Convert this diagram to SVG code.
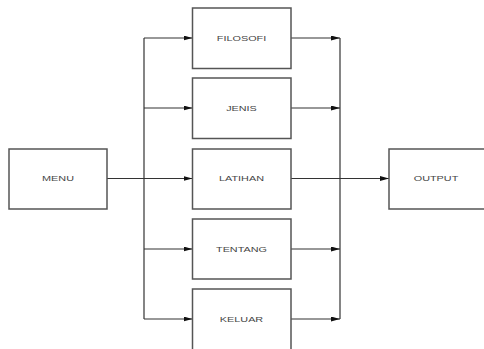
<svg xmlns="http://www.w3.org/2000/svg" width="484" height="349" viewBox="0 0 484 349">
<defs>
<marker id="arr" markerUnits="userSpaceOnUse" markerWidth="10" markerHeight="6" refX="9" refY="2.5" orient="auto">
<path d="M0,0 L9,2.5 L0,5 z" fill="#111"/>
</marker>
<style>
.box{fill:#fff;stroke:#555;stroke-width:1.5}
.lbl{font-family:"Liberation Sans",Arial,sans-serif;font-size:7px;fill:#444;text-anchor:middle}
.ln{fill:none;stroke:#333;stroke-width:1.2}
.ar{marker-end:url(#arr)}
</style>
</defs>
<rect width="484" height="349" fill="#fff"/>
<g id="connectors">
<line class="ln ar" x1="107" y1="178.5" x2="192.5" y2="178.5"/>
<line class="ln" x1="144" y1="38" x2="144" y2="319"/>
<line class="ln ar" x1="144" y1="38" x2="192.5" y2="38"/>
<line class="ln ar" x1="144" y1="108" x2="192.5" y2="108"/>
<line class="ln ar" x1="144" y1="249" x2="192.5" y2="249"/>
<line class="ln ar" x1="144" y1="319" x2="192.5" y2="319"/>
<line class="ln" x1="340" y1="38" x2="340" y2="319"/>
<line class="ln ar" x1="291" y1="38" x2="340" y2="38"/>
<line class="ln ar" x1="291" y1="108" x2="340" y2="108"/>
<line class="ln ar" x1="291" y1="249" x2="340" y2="249"/>
<line class="ln ar" x1="291" y1="319" x2="340" y2="319"/>
<line class="ln ar" x1="291" y1="178.5" x2="389" y2="178.5"/>
</g>
<g id="menu">
<rect class="box" x="9" y="149" width="98" height="60"/>
<text class="lbl" transform="translate(58,181) scale(1.55,1)">MENU</text>
</g>
<g id="filosofi">
<rect class="box" x="192.5" y="8" width="98.5" height="60.5"/>
<text class="lbl" transform="translate(241.5,41) scale(1.55,1)">FILOSOFI</text>
</g>
<g id="jenis">
<rect class="box" x="192.5" y="78" width="98.5" height="60.5"/>
<text class="lbl" transform="translate(241.5,111) scale(1.55,1)">JENIS</text>
</g>
<g id="latihan">
<rect class="box" x="192.5" y="149" width="98.5" height="60"/>
<text class="lbl" transform="translate(241.5,181) scale(1.55,1)">LATIHAN</text>
</g>
<g id="tentang">
<rect class="box" x="192.5" y="219" width="98.5" height="60"/>
<text class="lbl" transform="translate(241.5,251.5) scale(1.55,1)">TENTANG</text>
</g>
<g id="keluar">
<rect class="box" x="192.5" y="289" width="98.5" height="65"/>
<text class="lbl" transform="translate(241.5,321.5) scale(1.55,1)">KELUAR</text>
</g>
<g id="output">
<rect class="box" x="389" y="149" width="98" height="60"/>
<text class="lbl" transform="translate(436,181) scale(1.55,1)">OUTPUT</text>
</g>
</svg>
